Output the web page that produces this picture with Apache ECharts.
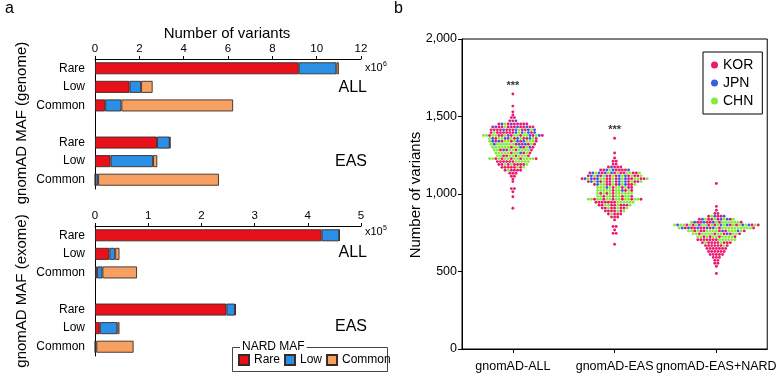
<!DOCTYPE html>
<html><head><meta charset="utf-8">
<script src="https://cdn.jsdelivr.net/npm/echarts@6/dist/echarts.min.js"></script>
<style>html,body{margin:0;padding:0;background:#fff}#c{width:778px;height:373px}</style>
</head><body><div id="c"></div><script>
const FONT = '"Liberation Sans", Arial, Helvetica, sans-serif';

// ---- panel a data ----
const mafCategories = ['Rare', 'Low', 'Common', '', 'Rare', 'Low', 'Common'];
const nardMafNames = ['Rare', 'Low', 'Common'];
// genome (x10^6)
const genomeRare   = [9.19, 1.56, 0.46, null, 2.80, 0.70, 0.01];
const genomeLow    = [1.70, 0.52, 0.73, null, 0.57, 1.92, 0.13];
const genomeCommon = [0.11, 0.52, 5.04, null, 0.03, 0.19, 5.45];
// exome (x10^5)
const exomeRare    = [4.26, 0.27, 0.04, null, 2.47, 0.09, 0.005];
const exomeLow     = [0.33, 0.11, 0.10, null, 0.16, 0.33, 0.02];
const exomeCommon  = [0.01, 0.08, 0.65, null, 0.02, 0.04, 0.70];
const genomeAxis = {min: 0, max: 12, interval: 2};
const exomeAxis  = {min: 0, max: 5, interval: 1};

// ---- panel b data ----
const swarmGroups = ['gnomAD-ALL', 'gnomAD-EAS', 'gnomAD-EAS+NARD'];
const populations = ['KOR', 'JPN', 'CHN'];
const significance = ['***', '***', ''];
// rows: [number of variants, count KOR, count JPN, count CHN]
const swarmAll = [
  [1645,1,0,0],[1567,1,0,0],[1530,1,0,0],[1510,1,0,0],[1493,2,0,0],[1472,2,1,0],
  [1452,7,2,1],[1433,10,3,1],[1414,9,4,2],[1396,8,4,3],[1377,7,3,10],[1358,6,4,6],
  [1340,5,4,7],[1321,4,3,8],[1302,3,2,9],[1284,4,1,8],[1265,3,1,8],[1246,4,0,7],
  [1228,5,0,11],[1209,6,0,5],[1190,7,0,3],[1172,6,0,2],[1153,5,0,1],[1134,3,0,0],
  [1115,2,0,0],[1096,1,0,0],[1080,1,0,0],[1035,2,0,0],[1015,1,0,0],[982,1,0,0],[908,1,0,0]
];
const swarmEas = [
  [1360,1,0,0],[1265,1,0,0],[1232,1,0,0],[1212,2,0,0],[1193,2,0,0],[1174,4,1,0],
  [1155,6,3,1],[1136,7,4,6],[1117,8,4,6],[1098,9,5,8],[1080,8,4,6],[1061,6,3,5],
  [1042,4,1,7],[1023,3,1,8],[1004,3,0,9],[985,4,0,8],[966,6,0,12],[947,7,0,6],
  [928,7,0,4],[909,6,0,3],[890,5,0,2],[871,4,0,1],[852,3,0,0],[833,1,0,0],
  [790,2,0,0],[768,1,0,0],[746,2,0,0],[676,1,0,0]
];
const swarmEasNard = [
  [1068,1,0,0],[920,1,0,0],[895,1,0,0],[875,2,0,0],[856,3,2,1],[837,5,3,4],
  [818,6,3,8],[800,8,6,14],[781,8,5,12],[762,6,2,11],[743,5,1,10],[724,4,0,9],
  [705,7,0,6],[686,8,0,2],[667,7,0,1],[648,7,0,0],[629,6,0,0],[610,5,0,0],
  [591,3,0,0],[572,2,0,0],[553,2,0,0],[534,1,0,0],[487,1,0,0]
];
const swarmYAxis = {min: 0, max: 2000, interval: 500};

// ---- styles ----
const barColors = ['#E8101A', '#2A8FE6', '#F6A062'];
const popColors = ['#EC1A6E', '#3B5EE0', '#86EA3A'];
const DX = 3.2 / 105; // swarm spacing (px -> x units)

function mixOrder(counts) {
  const n = counts.reduce((a, b) => a + b, 0);
  const used = [0, 0, 0], seq = [];
  for (let t = 0; t < n; t++) {
    let best = -1, bestDef = -Infinity;
    for (let p = 0; p < 3; p++) {
      if (used[p] >= counts[p]) continue;
      const def = (t + 1) * counts[p] / n - used[p];
      if (def > bestDef) { bestDef = def; best = p; }
    }
    used[best]++; seq.push(best);
  }
  return seq;
}
function slot(i, n) {
  if (n % 2 === 1) { const k = Math.ceil(i / 2); return i % 2 ? k : -k; }
  const k = Math.floor(i / 2) + 0.5; return i % 2 ? -k : k;
}
const swarmPoints = [[], [], []];
[swarmAll, swarmEas, swarmEasNard].forEach((rows, gi) => {
  rows.forEach(r => {
    const seq = mixOrder([r[1], r[2], r[3]]);
    seq.forEach((p, i) => swarmPoints[p].push([gi + slot(i, seq.length) * DX, r[0]]));
  });
});
const starData = significance.map((s, gi) => {
  const rows = [swarmAll, swarmEas, swarmEasNard][gi];
  return s ? {value: [gi, Math.max(...rows.map(r => r[0])) + 55], name: s} : null;
}).filter(Boolean);

const chart = echarts.init(document.getElementById('c'), null, {renderer: 'canvas'});
const txt = {color: '#000', fontFamily: FONT};
function barXAxis(gridIndex, ax) {
  return {type: 'value', gridIndex, position: 'top', min: ax.min, max: ax.max, interval: ax.interval,
    axisLine: {show: true, lineStyle: {color: '#000', width: 1}},
    axisTick: {show: true, length: 3, lineStyle: {color: '#000'}},
    axisLabel: {...txt, fontSize: 11.5, margin: 4},
    splitLine: {show: false}};
}
function barYAxis(gridIndex) {
  return {type: 'category', gridIndex, data: mafCategories, inverse: true,
    axisLine: {show: true, lineStyle: {color: '#000', width: 1}},
    axisTick: {show: false}, axisLabel: {...txt, fontSize: 12, margin: 10}};
}
function barSeries(gridIndex, arrs, stack) {
  return arrs.map((d, i) => ({
    type: 'bar', name: nardMafNames[i], xAxisIndex: gridIndex, yAxisIndex: gridIndex, stack,
    data: d, barWidth: 12, itemStyle: {color: barColors[i], borderColor: '#3a2a22', borderWidth: 0.9},
    animation: false
  }));
}
const sepThousands = v => String(v).replace(/\B(?=(\d{3})+(?!\d))/g, ',');

const option = {
  animation: false,
  backgroundColor: '#fff',
  grid: [
    {left: 95, top: 59, width: 266, height: 130},
    {left: 95, top: 226, width: 266, height: 130},
    {left: 462, top: 39, width: 315, height: 313, show: true, borderColor: '#000', borderWidth: 1}
  ],
  xAxis: [
    barXAxis(0, genomeAxis),
    barXAxis(1, exomeAxis),
    {type: 'category', gridIndex: 2, data: swarmGroups, position: 'bottom',
      axisLine: {show: true, lineStyle: {color: '#000'}},
      axisTick: {show: true, alignWithLabel: true, length: 4, lineStyle: {color: '#000'}},
      axisLabel: {...txt, fontSize: 12.5, margin: 11, interval: 0, hideOverlap: false}},
    {type: 'value', gridIndex: 2, min: -0.5, max: 2.5, show: false}
  ],
  yAxis: [
    barYAxis(0), barYAxis(1),
    {type: 'value', gridIndex: 2, min: swarmYAxis.min, max: swarmYAxis.max, interval: swarmYAxis.interval,
      axisLine: {show: true, onZero: false, lineStyle: {color: '#000'}},
      axisTick: {show: true, length: 4, lineStyle: {color: '#000'}},
      axisLabel: {...txt, fontSize: 12.5, margin: 5, formatter: sepThousands},
      splitLine: {show: false}}
  ],
  legend: [
    {data: nardMafNames, left: 238, top: 354, orient: 'horizontal', icon: 'rect',
      itemWidth: 10, itemHeight: 10, itemGap: 4, padding: 0,
      textStyle: {...txt, fontSize: 12}},
    {data: populations, left: 703, top: 52, orient: 'vertical', icon: 'circle',
      itemWidth: 7, itemHeight: 7, itemGap: 4, padding: [6, 9, 6, 8],
      borderColor: '#000', borderWidth: 1, textStyle: {...txt, fontSize: 14}}
  ],
  series: [
    ...barSeries(0, [genomeRare, genomeLow, genomeCommon], 'g'),
    ...barSeries(1, [exomeRare, exomeLow, exomeCommon], 'e'),
    ...populations.map((p, i) => ({
      type: 'scatter', name: p, xAxisIndex: 3, yAxisIndex: 2, data: swarmPoints[i],
      symbolSize: 2.9, itemStyle: {color: popColors[i], opacity: 1}, z: 3
    })),
    {type: 'scatter', xAxisIndex: 3, yAxisIndex: 2, data: starData, symbolSize: 0,
      label: {show: true, position: 'inside', formatter: p => p.name, ...txt, fontSize: 11, fontWeight: 'bold'}}
  ],
  graphic: [
    {type: 'text', x: 5, y: 9, style: {text: 'a', font: '16px ' + FONT, fill: '#000', textVerticalAlign: 'middle'}},
    {type: 'text', x: 394, y: 9, style: {text: 'b', font: '16px ' + FONT, fill: '#000', textVerticalAlign: 'middle'}},
    {type: 'text', x: 227, y: 34, style: {text: 'Number of variants', font: '15px ' + FONT, fill: '#000', textAlign: 'center', textVerticalAlign: 'middle'}},
    {type: 'text', x: 22, y: 123, rotation: Math.PI / 2, style: {text: 'gnomAD MAF (genome)', font: '15px ' + FONT, fill: '#000', textAlign: 'center', textVerticalAlign: 'middle'}},
    {type: 'text', x: 22, y: 291, rotation: Math.PI / 2, style: {text: 'gnomAD MAF (exome)', font: '15px ' + FONT, fill: '#000', textAlign: 'center', textVerticalAlign: 'middle'}},
    {type: 'text', x: 416, y: 195, rotation: Math.PI / 2, style: {text: 'Number of variants', font: '15px ' + FONT, fill: '#000', textAlign: 'center', textVerticalAlign: 'middle'}},
    {type: 'text', x: 367, y: 88, style: {text: 'ALL', font: '16px ' + FONT, fill: '#000', textAlign: 'right', textVerticalAlign: 'middle'}},
    {type: 'text', x: 367, y: 162, style: {text: 'EAS', font: '16px ' + FONT, fill: '#000', textAlign: 'right', textVerticalAlign: 'middle'}},
    {type: 'text', x: 367, y: 253, style: {text: 'ALL', font: '16px ' + FONT, fill: '#000', textAlign: 'right', textVerticalAlign: 'middle'}},
    {type: 'text', x: 367, y: 327, style: {text: 'EAS', font: '16px ' + FONT, fill: '#000', textAlign: 'right', textVerticalAlign: 'middle'}},
    {type: 'text', x: 365, y: 68, style: {text: 'x10', font: '11px ' + FONT, fill: '#000', textVerticalAlign: 'middle'}},
    {type: 'text', x: 383, y: 64, style: {text: '6', font: '7px ' + FONT, fill: '#000', textVerticalAlign: 'middle'}},
    {type: 'text', x: 365, y: 232, style: {text: 'x10', font: '11px ' + FONT, fill: '#000', textVerticalAlign: 'middle'}},
    {type: 'text', x: 383, y: 228, style: {text: '5', font: '7px ' + FONT, fill: '#000', textVerticalAlign: 'middle'}},
    {type: 'rect', shape: {x: 232.5, y: 347.5, width: 155, height: 24}, style: {fill: 'none', stroke: '#444', lineWidth: 1}},
    {type: 'text', x: 240, y: 347, z: 10, style: {text: 'NARD MAF', font: '12px ' + FONT, fill: '#000', textVerticalAlign: 'middle', backgroundColor: '#fff', padding: [1, 2]}}
  ]
};
chart.setOption(option);
</script></body></html>
